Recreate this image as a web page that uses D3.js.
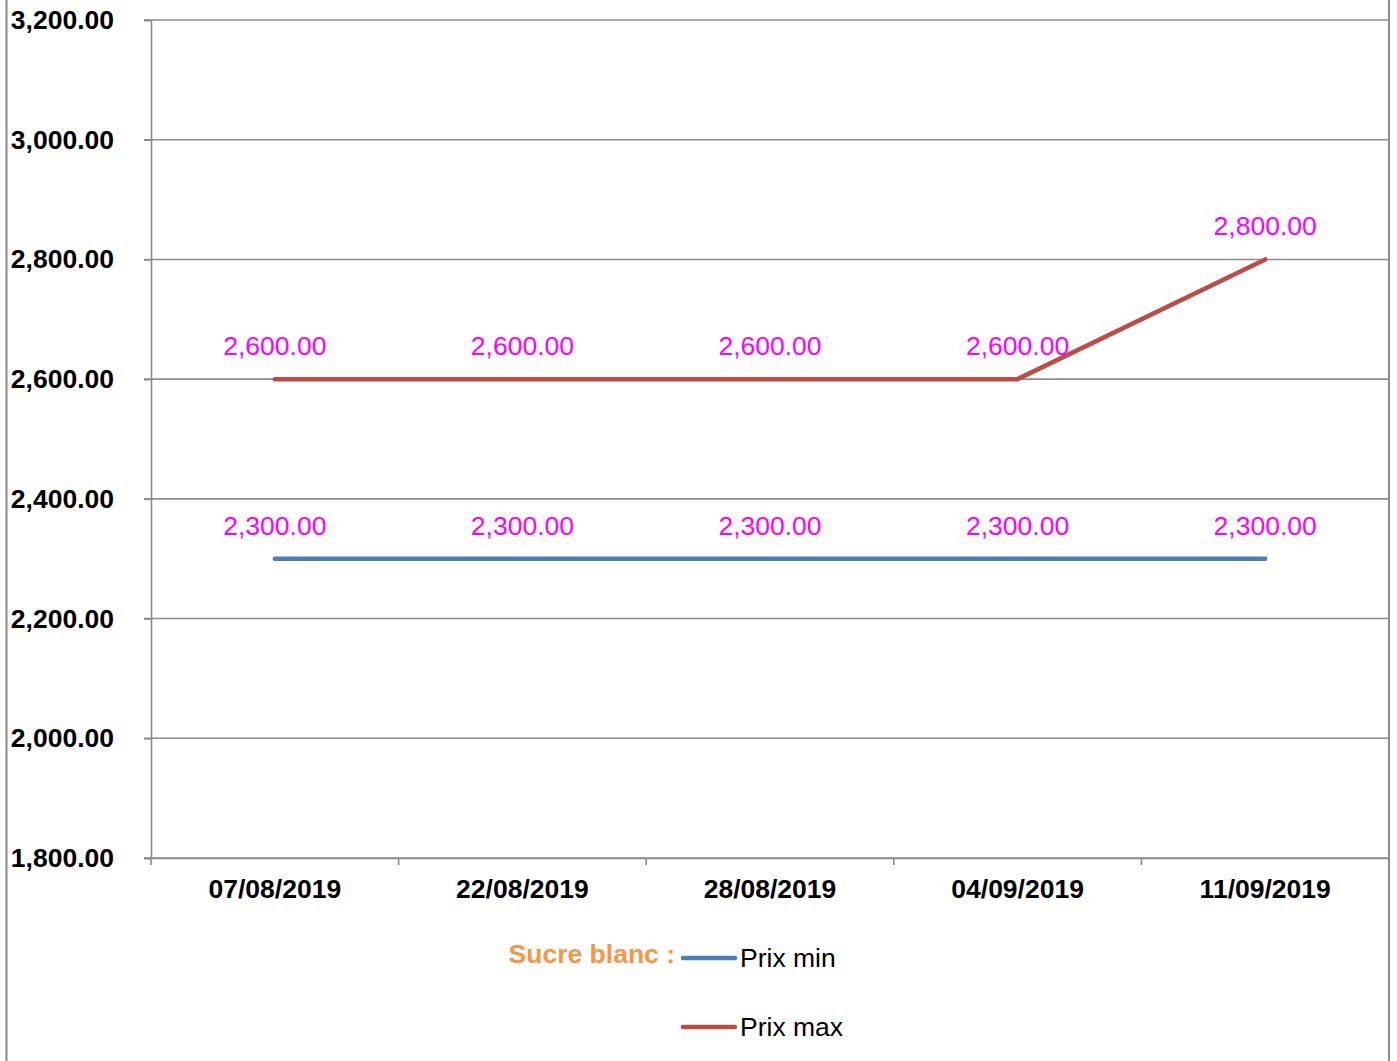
<!DOCTYPE html>
<html>
<head>
<meta charset="utf-8">
<script src="https://cdn.jsdelivr.net/npm/d3@7"></script>
<style>
  body { margin: 0; background: #fff; }
  text { font-family: "Liberation Sans", Arial, sans-serif; }
</style>
</head>
<body>
<div id="chart"></div>
<script>
// data
var dates = ["07/08/2019", "22/08/2019", "28/08/2019", "04/09/2019", "11/09/2019"];
var prixMin = [2300, 2300, 2300, 2300, 2300];
var prixMax = [2600, 2600, 2600, 2600, 2800];
var yTicks = [1800, 2000, 2200, 2400, 2600, 2800, 3000, 3200];
var seriesNames = ["Prix min", "Prix max"];
var legendTitle = "Sucre blanc :";

var svgWidth = 1397;
var svgHeight = 1061;
var fontSize = "26.5px";

var margin = { top: 20, right: 8, bottom: 203, left: 151 };
var chartWidth = 1389 - margin.left;
var chartHeight = 858 - margin.top;

var svg = d3.select("#chart")
    .append("svg")
    .attr("width", svgWidth)
    .attr("height", svgHeight);

// outer frame line on the left
svg.append("line")
    .attr("x1", 6.5).attr("x2", 6.5)
    .attr("y1", 0).attr("y2", svgHeight)
    .attr("stroke", "#898989").attr("stroke-width", 2);

var chartGroup = svg.append("g")
    .attr("transform", `translate(${margin.left},${margin.top})`);

var xBand = d3.scaleBand()
    .domain(dates)
    .range([0, chartWidth]);

var yScale = d3.scaleLinear()
    .domain([1800, 3200])
    .range([chartHeight, 0]);

var xPos = d => xBand(d) + xBand.bandwidth() / 2;

// gridlines
chartGroup.append("g")
    .selectAll("line")
    .data(yTicks)
    .enter()
    .append("line")
    .attr("x1", -7)
    .attr("x2", chartWidth)
    .attr("y1", d => yScale(d))
    .attr("y2", d => yScale(d))
    .attr("stroke", "#8c8c8c")
    .attr("stroke-width", 1.6);

// right frame of plot
chartGroup.append("line")
    .attr("x1", chartWidth).attr("x2", chartWidth)
    .attr("y1", -margin.top).attr("y2", svgHeight - margin.top)
    .attr("stroke", "#8c8c8c").attr("stroke-width", 2);

// y axis
var leftAxis = d3.axisLeft(yScale)
    .tickValues(yTicks)
    .tickSize(7)
    .tickPadding(30)
    .tickFormat(d3.format(",.2f"));

var yAxis = chartGroup.append("g").call(leftAxis);
yAxis.attr("font-size", null).attr("font-family", null);
yAxis.select(".domain").attr("stroke", "#8c8c8c").attr("stroke-width", 1.6);
yAxis.selectAll(".tick line").attr("stroke", "#8c8c8c").attr("stroke-width", 1.6);
yAxis.selectAll(".tick text")
    .attr("fill", "#000")
    .style("font-size", fontSize)
    .style("font-weight", "bold");

// x axis with ticks at category boundaries
var bottomAxis = d3.axisBottom(xBand).tickSize(0).tickPadding(21);
var xAxis = chartGroup.append("g")
    .attr("transform", `translate(0, ${chartHeight})`)
    .call(bottomAxis);
xAxis.attr("font-size", null).attr("font-family", null);
xAxis.select(".domain").attr("stroke", "#8c8c8c").attr("stroke-width", 1.6);
xAxis.selectAll(".tick text")
    .attr("fill", "#000")
    .style("font-size", fontSize)
    .style("font-weight", "bold");

var boundaries = dates.map(d => xBand(d)).concat([chartWidth]);
xAxis.selectAll("line.bound")
    .data(boundaries)
    .enter()
    .append("line")
    .attr("class", "bound")
    .attr("x1", d => d).attr("x2", d => d)
    .attr("y1", 0).attr("y2", 7)
    .attr("stroke", "#8c8c8c").attr("stroke-width", 1.6);

// lines
var series = [
    { name: seriesNames[0], values: prixMin, color: "#4a7ebb" },
    { name: seriesNames[1], values: prixMax, color: "#be4b48" }
];

var line = d3.line()
    .x((d, i) => xPos(dates[i]))
    .y(d => yScale(d));

series.forEach(function(s) {
    chartGroup.append("path")
        .datum(s.values)
        .attr("d", line)
        .attr("fill", "none")
        .attr("stroke", s.color)
        .attr("stroke-width", 4.5)
        .attr("stroke-linecap", "round")
        .attr("stroke-linejoin", "round");
});

// data labels
series.forEach(function(s) {
    chartGroup.selectAll(null)
        .data(s.values)
        .enter()
        .append("text")
        .attr("x", (d, i) => xPos(dates[i]))
        .attr("y", d => yScale(d) - 24)
        .attr("text-anchor", "middle")
        .attr("fill", "#ff00ff")
        .style("font-size", fontSize)
        .text(d => d3.format(",.2f")(d));
});

// legend
var legend = svg.append("g");
legend.append("text")
    .attr("x", 675)
    .attr("y", 963)
    .attr("text-anchor", "end")
    .attr("fill", "#f79646")
    .style("font-size", fontSize)
    .style("font-weight", "bold")
    .text(legendTitle);

series.forEach(function(s, i) {
    var ly = 958 + i * 69;
    legend.append("line")
        .attr("x1", 683).attr("x2", 735)
        .attr("y1", ly).attr("y2", ly)
        .attr("stroke", s.color)
        .attr("stroke-width", 4.5)
        .attr("stroke-linecap", "round");
    legend.append("text")
        .attr("x", 740)
        .attr("y", ly + 9)
        .attr("fill", "#000")
        .style("font-size", fontSize)
        .text(s.name);
});
</script>
</body>
</html>
